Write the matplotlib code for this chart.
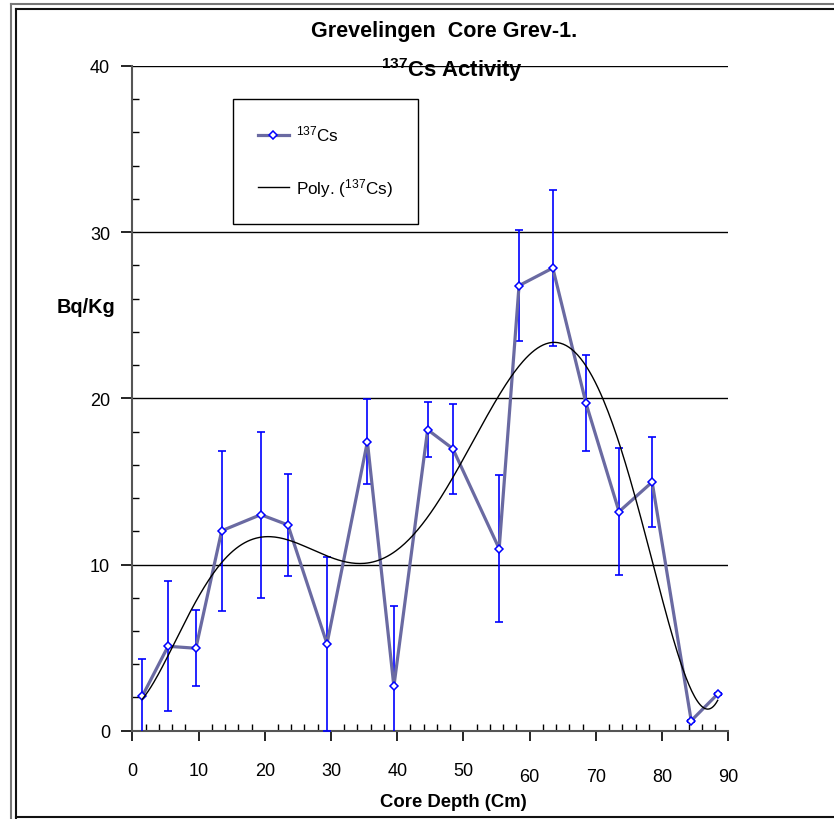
import numpy as np
import matplotlib
matplotlib.use("Agg")
import matplotlib.pyplot as plt
from matplotlib.lines import Line2D
from matplotlib.transforms import blended_transform_factory

plt.rcParams['font.family'] = ['Liberation Sans', 'DejaVu Sans']
plt.rcParams['mathtext.fontset'] = 'custom'
plt.rcParams['mathtext.rm'] = 'Liberation Sans'
plt.rcParams['mathtext.bf'] = 'Liberation Sans:bold'
plt.rcParams['mathtext.default'] = 'regular'

# ---- data ----
depth = [1.5, 5.4, 9.6, 13.5, 19.4, 23.5, 29.4, 35.5, 39.5, 44.6, 48.4,
         55.4, 58.4, 63.5, 68.5, 73.5, 78.5, 84.4, 88.4]
activity = [2.07, 5.08, 4.96, 12.03, 13.0, 12.38, 5.23, 17.39, 2.67, 18.11,
            16.97, 10.95, 26.78, 27.84, 19.72, 13.18, 14.96, 0.6, 2.21]
error = [2.26, 3.9, 2.3, 4.8, 5.0, 3.05, 5.25, 2.55, 4.85, 1.65, 2.7,
         4.43, 3.35, 4.72, 2.9, 3.8, 2.73, 0.05, 0.05]
xticks = [0, 10, 20, 30, 40, 50, 60, 70, 80, 90]
yticks = [0, 10, 20, 30, 40]
poly_degree = 6

W, H = 834, 820
fig = plt.figure(figsize=(W / 100, H / 100), dpi=100)
ax = fig.add_axes([132.3 / W, 1 - 731.7 / H, (728.3 - 132.3) / W, (731.7 - 66.9) / H])
ax.set_xlim(0, 90)
ax.set_ylim(0, 40)

# grid lines
for g in yticks[1:]:
    ax.axhline(g, color='black', lw=1.0, zorder=1)

# error bars
ax.errorbar(depth, activity, yerr=error, fmt='none', ecolor='#0000FF',
            elinewidth=1.2, capsize=2.8, capthick=1.2, zorder=3)

# data line
ax.plot(depth, activity, color='#6a6aa2', lw=2.3, marker='D', markersize=4.5,
        mfc='white', mec='#0000FF', mew=1.1, zorder=4, label=r'$^{137}$Cs')

# polynomial trendline
coef = np.polyfit(depth, activity, poly_degree)
xs = np.linspace(depth[0], depth[-1], 400)
ax.plot(xs, np.polyval(coef, xs), color='black', lw=1.0, zorder=5,
        label=r'Poly. ($^{137}$Cs)')

# spines / ticks
for s in ['top', 'right']:
    ax.spines[s].set_visible(False)
for s in ['left', 'bottom']:
    ax.spines[s].set_color('#555555')
    ax.spines[s].set_linewidth(1.5)
ax.set_xticks(xticks)
ax.set_xticks(np.arange(0, 91, 2), minor=True)
ax.set_yticks(yticks)
ax.set_yticks(np.arange(0, 41, 2), minor=True)
ax.tick_params(axis='x', which='major', direction='out', length=7, width=1.2,
               color='black', labelbottom=False)
ax.tick_params(axis='x', which='minor', direction='in', length=5, width=1.0,
               color='black')
ax.tick_params(axis='y', which='major', direction='out', length=8, width=1.2,
               color='black', labelsize=13, pad=8)
ax.tick_params(axis='y', which='minor', direction='in', length=5, width=1.0,
               color='black')
ax.set_yticklabels([str(v) for v in yticks])

# x tick labels (Excel-style staggered heights)
tr = blended_transform_factory(ax.transData, fig.transFigure)
for v in xticks:
    ypix = 777.3 if v >= 60 else 771.7
    ax.text(v, 1 - ypix / H, str(v), transform=tr, ha='center', va='center',
            fontsize=13)

# labels
fig.text(453 / W, 1 - 803 / H, 'Core Depth (Cm)', ha='center', va='center',
         fontsize=13.3, fontweight='bold')
fig.text(86 / W, 1 - 308 / H, 'Bq/Kg', ha='center', va='center',
         fontsize=14.3, fontweight='bold')
fig.text(444 / W, 1 - 32 / H, 'Grevelingen  Core Grev-1.', ha='center',
         va='center', fontsize=15.5, fontweight='bold')
fig.text(452 / W, 1 - 70 / H, r'$^{137}$Cs Activity', ha='center',
         va='center', fontsize=15.8, fontweight='bold')

# legend
leg = ax.legend(loc='upper left', bbox_to_anchor=(233 / W, 1 - 100 / H),
                bbox_transform=fig.transFigure, fontsize=12.3, frameon=True,
                fancybox=False, framealpha=1, edgecolor='black',
                borderpad=1.45, labelspacing=1.9, handlelength=1.8,
                handletextpad=0.45, borderaxespad=0)
leg.get_frame().set_linewidth(1.0)

# outer double border
def fline(x0, y0, x1, y1, c, lw):
    fig.add_artist(Line2D([x0 / W, x1 / W], [1 - y0 / H, 1 - y1 / H],
                          transform=fig.transFigure, color=c, lw=lw))

fline(11, 4.7, W, 4.7, '#777777', 1.5)
fline(11, 4.7, 11, H, '#777777', 1.5)
fline(15.7, 10.3, W, 10.3, '#111111', 1.5)
fline(15.7, 10.3, 15.7, H, '#111111', 1.5)
fline(15.7, 818, W, 818, '#111111', 1.5)

fig.savefig('out.png', dpi=100)
